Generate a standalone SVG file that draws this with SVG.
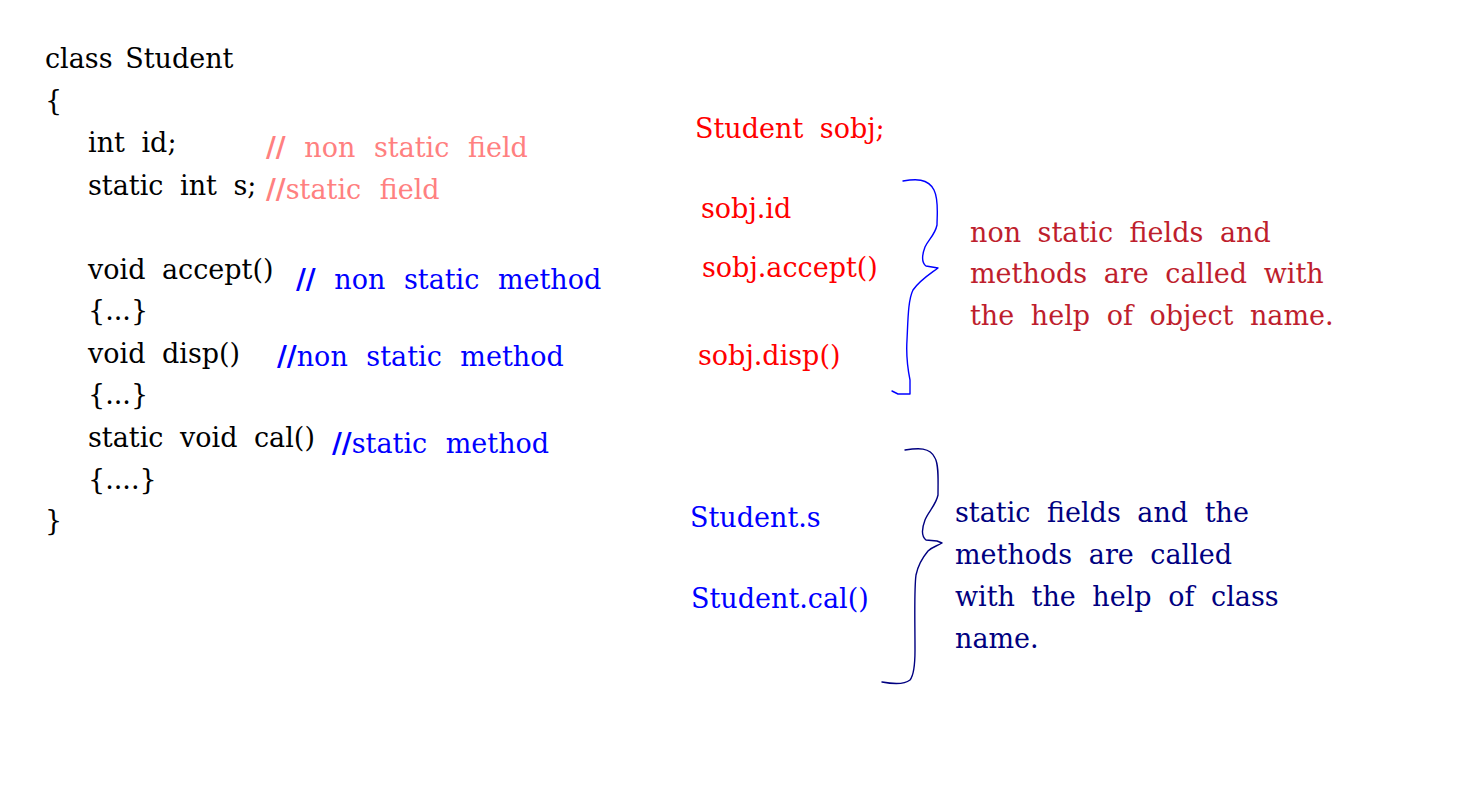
<svg xmlns="http://www.w3.org/2000/svg" width="1481" height="794" viewBox="0 0 1481 794">
<style>
text{font-family:"DejaVu Serif","Liberation Serif",serif;font-size:27px;word-spacing:8px}
.k{fill:#000}
.pk{fill:#ff8080;word-spacing:10px}
.bl{fill:#0000ff}
.cm{word-spacing:10px}
.rd{fill:#ff0000}
.dr{fill:#be1e2d}
.nv{fill:#000080}
.b{font-weight:bold}
.br{fill:none;stroke-width:1.4;stroke-linejoin:round;stroke-linecap:round}
</style>
<rect width="1481" height="794" fill="#fff"/>
<g id="class-code">
<text class="k" x="45" y="68" style="word-spacing:4px">class Student</text>
<text class="k" x="45" y="110">{</text>
<text class="k" x="88" y="152">int id;</text>
<text class="k" x="88" y="195">static int s;</text>
<text class="k" x="88" y="279">void accept()</text>
<text class="k" x="88" y="320">{...}</text>
<text class="k" x="88" y="363">void disp()</text>
<text class="k" x="88" y="404">{...}</text>
<text class="k" x="88" y="447">static void cal()</text>
<text class="k" x="88" y="489">{....}</text>
<text class="k" x="45" y="530">}</text>
</g>
<g id="comments">
<text class="pk" x="266" y="157"><tspan class="b">//</tspan> non static field</text>
<text class="pk" x="266" y="199"><tspan class="b">//</tspan>static field</text>
<text class="bl cm" x="296" y="289"><tspan class="b">//</tspan> non static method</text>
<text class="bl cm" x="277" y="366"><tspan class="b">//</tspan>non static method</text>
<text class="bl cm" x="332" y="453"><tspan class="b">//</tspan>static method</text>
</g>
<g id="object-calls">
<text class="rd" x="695" y="138">Student sobj;</text>
<text class="rd" x="701" y="218">sobj.id</text>
<text class="rd" x="702" y="277">sobj.accept()</text>
<text class="rd" x="698" y="365">sobj.disp()</text>
</g>
<g id="object-note">
<text class="dr" x="970" y="242">non static fields and</text>
<text class="dr" x="970" y="283">methods are called with</text>
<text class="dr" x="970" y="325">the help of object name.</text>
</g>
<g id="class-calls">
<text class="bl" x="690" y="527">Student.s</text>
<text class="bl" x="691" y="608">Student.cal()</text>
</g>
<g id="class-note">
<text class="nv" x="955" y="522">static fields and the</text>
<text class="nv" x="955" y="564">methods are called</text>
<text class="nv" x="955" y="606">with the help of class</text>
<text class="nv" x="955" y="648">name.</text>
</g>
<g id="connectors">
<path class="br" stroke="#0000ff" d="M903,181 C915,179 928,178 934,190 C939,200 937,215 937,225 C935,235 928,240 925,247 C922,255 921,262 926,266 L938,268 C930,274 920,280 913,290 C908,300 908,320 907,340 C906,355 908,370 910,380 L910,394 L898,394 L892,391"/>
<path class="br" stroke="#000080" d="M905,450 C918,448 930,447 935,458 C939,465 938,480 938,495 C936,505 928,512 925,520 C922,528 921,536 926,540 L937,541 L942,543 C937,546 932,547 928,551 C923,557 918,565 916,575 C914,590 915,620 915,650 C915,665 914,675 910,680 C905,684 893,684 882,682"/>
</g>
</svg>
